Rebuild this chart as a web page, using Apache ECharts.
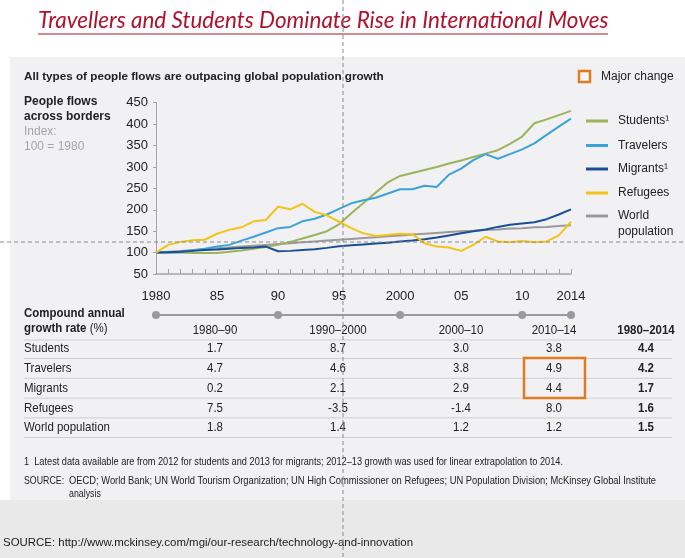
<!DOCTYPE html>
<html>
<head>
<meta charset="utf-8">
<script src="https://cdn.jsdelivr.net/npm/echarts@6/dist/echarts.min.js"></script>
<style>
html,body{margin:0;padding:0;background:#ffffff;}
#c{width:685px;height:558px;}
</style>
</head>
<body>
<div id="c"></div>
<script>
// ---------- DATA ----------
var years = [];
for (var yy = 1980; yy <= 2014; yy++) years.push(String(yy));

var xLabelYears = ['1980','1985','1990','1995','2000','2005','2010','2014'];
var xLabelTexts = ['1980','85','90','95','2000','05','10','2014'];

var seriesNames = ['Students\u00b9','Travelers','Migrants\u00b9','Refugees','World\npopulation'];

var students = [100,100,100,99,99,99,102,105,109,113,118,125,133,141,150,166,192,216,240,264,279,286,293,300,308,315,323,331,339,354,371,402,411,421,431];
var travelers = [100,100,101,105,109,114,118,128,137,147,157,160,173,179,189,202,215,222,228,238,248,248,256,253,282,296,316,330,319,330,341,355,375,394,413];
var migrants = [100,101,102,104,106,107,109,111,112,114,103,104,106,108,111,115,117,119,121,123,126,128,131,135,140,145,150,154,160,165,168,171,178,189,201];
var refugees = [100,118,125,129,130,144,153,159,173,176,207,201,214,195,187,172,157,145,139,141,144,143,122,114,112,104,118,137,126,124,127,124,126,140,172];
var worldPop = [100,102,104,106,108,110,112,114,116,118,120,122,124,126,128,130,132,134,136,138,140,142,144,146,148,150,151,153,154,156,157,159,160,162,164];

var timelineYears = ['1980','1990','2000','2010','2014'];

var periods = ['1980\u201390','1990\u20132000','2000\u201310','2010\u201314','1980\u20132014'];
var rowNames = ['Students','Travelers','Migrants','Refugees','World population'];
var cagrStudents = [1.7, 8.7, 3.0, 3.8, 4.4];
var cagrTravelers = [4.7, 4.6, 3.8, 4.9, 4.2];
var cagrMigrants = [0.2, 2.1, 2.9, 4.4, 1.7];
var cagrRefugees = [7.5, -3.5, -1.4, 8.0, 1.6];
var cagrWorld = [1.8, 1.4, 1.2, 1.2, 1.5];

// ---------- STYLE ----------
var colors = ['#9db35a','#3ba3d8','#1b4f93','#f2c418','#9a9a9a'];
var SANS = "'Liberation Sans', Arial, sans-serif";
var TXT = '#222222';
var NARROW_SCALE = 0.85;

var seriesData = [students, travelers, migrants, refugees, worldPop];
var cagrRows = [cagrStudents, cagrTravelers, cagrMigrants, cagrRefugees, cagrWorld];

var mctx = document.createElement('canvas').getContext('2d');
function measure(s, size, weight, family) {
  mctx.font = (weight || 'normal') + ' ' + size + 'px ' + (family || SANS);
  return mctx.measureText(s).width;
}

function txt(x, y, s, opt) {
  opt = opt || {};
  var el = {
    type: 'text', x: x, y: y, z: 50, silent: true,
    style: {
      text: s,
      fill: opt.fill || TXT,
      fontSize: opt.size || 12,
      fontFamily: opt.family || SANS,
      fontWeight: opt.weight || 'normal',
      fontStyle: opt.style || 'normal',
      align: opt.align || 'left',
      textAlign: opt.align || 'left',
      verticalAlign: 'middle',
      textVerticalAlign: 'middle'
    }
  };
  var sx = opt.sx;
  if (opt.fitWidth) {
    sx = opt.fitWidth / measure(s, opt.size || 12, opt.weight, opt.family);
  }
  if (sx) { el.scaleX = sx; }
  return el;
}

var graphics = [];
// backgrounds
graphics.push({type:'rect', z:-100, silent:true, shape:{x:0,y:500,width:685,height:58}, style:{fill:'#e9e9ea'}});
graphics.push({type:'rect', z:-100, silent:true, shape:{x:10,y:57,width:675,height:443}, style:{fill:'#f1f1f3'}});

// title
graphics.push(txt(38, 21, 'Travellers and Students Dominate Rise in International Moves',
  {size:22.5, family:"Lato, 'Open Sans', sans-serif", style:'italic', fill:'#b0122c'}));
graphics.push({type:'line', z:50, silent:true, shape:{x1:38,y1:34,x2:608,y2:34}, style:{stroke:'#b0122c', lineWidth:1}});

// panel headings
graphics.push(txt(24, 77, 'All types of people flows are outpacing global population growth', {size:11.7, weight:'bold'}));
graphics.push(txt(24, 102, 'People flows', {size:12, weight:'bold'}));
graphics.push(txt(24, 117, 'across borders', {size:12, weight:'bold'}));
graphics.push(txt(24, 132, 'Index:', {size:12, fill:'#a5a5a8'}));
graphics.push(txt(24, 147, '100 = 1980', {size:12, fill:'#a5a5a8'}));

// major change key
graphics.push({type:'rect', z:50, silent:true, shape:{x:579,y:71,width:11,height:11}, style:{fill:'#f6f6f6', stroke:'#e07b1f', lineWidth:2.5}});
graphics.push(txt(601, 77, 'Major change', {size:12}));

// legend
var legY = [121, 145.5, 169, 193, 216];
for (var i = 0; i < seriesNames.length; i++) {
  graphics.push({type:'line', z:50, silent:true, shape:{x1:586,y1:legY[i],x2:608,y2:legY[i]}, style:{stroke:colors[i], lineWidth:3}});
  var parts = seriesNames[i].split('\n');
  for (var p = 0; p < parts.length; p++) {
    graphics.push(txt(618, legY[i] + p*16, parts[p], {size:12}));
  }
}

// table
graphics.push(txt(24, 313, 'Compound annual', {size:13.5, weight:'bold', sx:NARROW_SCALE}));
graphics.push(txt(24, 328, 'growth rate', {size:13.5, weight:'bold', sx:NARROW_SCALE}));
var grW = measure('growth rate ', 13.5, 'bold') * NARROW_SCALE;
graphics.push(txt(24 + grW, 328, '(%)', {size:13.5, sx:NARROW_SCALE}));
var colX = [215, 338, 461, 554, 646];
for (var c = 0; c < periods.length; c++) {
  graphics.push(txt(colX[c], 330, periods[c], {size:13.5, align:'center', weight: c === 4 ? 'bold' : 'normal', sx:NARROW_SCALE}));
}
var sepY = [340, 358.5, 378.3, 398.1, 417.9, 437.5];
for (var s = 0; s < sepY.length; s++) {
  graphics.push({type:'line', z:40, silent:true, shape:{x1:24,y1:sepY[s],x2:672,y2:sepY[s]}, style:{stroke:'#cfcfd3', lineWidth:1}});
}
for (var r = 0; r < rowNames.length; r++) {
  var ry = 348.5 + r*19.8;
  graphics.push(txt(24, ry, rowNames[r], {size:13.5, sx:NARROW_SCALE}));
  for (var c2 = 0; c2 < cagrRows[r].length; c2++) {
    graphics.push(txt(colX[c2], ry, cagrRows[r][c2].toFixed(1), {size:13.5, align:'center', weight: c2 === 4 ? 'bold' : 'normal', sx:NARROW_SCALE}));
  }
}
// major change box
graphics.push({type:'rect', z:60, silent:true, shape:{x:524,y:358,width:61,height:40}, style:{fill:'none', stroke:'#e07b1f', lineWidth:2.5}});

// footnotes
graphics.push(txt(24, 462, '1  Latest data available are from 2012 for students and 2013 for migrants; 2012\u201313 growth was used for linear extrapolation to 2014.', {size:11, fitWidth:539}));
graphics.push(txt(24, 481, 'SOURCE:', {size:11, sx:0.8}));
graphics.push(txt(69, 481, 'OECD; World Bank; UN World Tourism Organization; UN High Commissioner on Refugees; UN Population Division; McKinsey Global Institute', {size:11, fitWidth:587}));
graphics.push(txt(69, 494, 'analysis', {size:11, sx:0.8}));

graphics.push(txt(3, 543, 'SOURCE: http://www.mckinsey.com/mgi/our-research/technology-and-innovation', {size:11.4, fill:'#1a1a1a', fitWidth:410}));

// crosshair guides
graphics.push({type:'line', z:200, silent:true, shape:{x1:343,y1:0,x2:343,y2:558}, style:{stroke:'#8a8a8a', lineWidth:1, lineDash:[4,3]}});
graphics.push({type:'line', z:200, silent:true, shape:{x1:0,y1:242,x2:685,y2:242}, style:{stroke:'#8a8a8a', lineWidth:1, lineDash:[4,3]}});

// ---------- CHART ----------
var series = [];
for (var k = 0; k < seriesData.length; k++) {
  series.push({
    name: seriesNames[k],
    type: 'line',
    xAxisIndex: 0, yAxisIndex: 0,
    data: seriesData[k],
    symbol: 'none',
    lineStyle: {color: colors[k], width: 2},
    itemStyle: {color: colors[k]},
    z: k === 4 ? 2 : 3,
    animation: false
  });
}
series.push({
  type: 'line',
  xAxisIndex: 1, yAxisIndex: 1,
  data: timelineYears.map(function (y) { return [years.indexOf(y), 0.5]; }),
  symbol: 'circle', symbolSize: 8,
  showSymbol: true, showAllSymbol: true,
  lineStyle: {color: '#9a9a9a', width: 2},
  itemStyle: {color: '#9a9a9a'},
  animation: false
});

var option = {
  backgroundColor: 'transparent',
  animation: false,
  grid: [
    {left: 156, right: 114, top: 102.7, bottom: 284, containLabel: false},
    {left: 156, right: 114, top: 310, height: 10}
  ],
  xAxis: [{
    type: 'category', gridIndex: 0, data: years, boundaryGap: false,
    axisLine: {lineStyle: {color: '#a3a3a6', width: 1.5}},
    axisTick: {inside: true, length: 5, interval: 0, lineStyle: {color: '#a3a3a6'}},
    axisLabel: {
      interval: function (idx, val) { return xLabelYears.indexOf(val) >= 0; },
      formatter: function (val) { var j = xLabelYears.indexOf(val); return j >= 0 ? xLabelTexts[j] : ''; },
      color: TXT, fontSize: 13, fontFamily: SANS, margin: 16
    },
    splitLine: {show: false}
  }, {
    type: 'category', gridIndex: 1, data: years, boundaryGap: false, show: false
  }],
  yAxis: [{
    type: 'value', gridIndex: 0, min: 50, max: 450, interval: 50,
    axisLine: {show: true, lineStyle: {color: '#a3a3a6', width: 1}},
    axisTick: {show: true, length: 3, lineStyle: {color: '#a3a3a6'}},
    axisLabel: {color: TXT, fontSize: 13, fontFamily: SANS, margin: 8},
    splitLine: {show: false}
  }, {
    type: 'value', gridIndex: 1, min: 0, max: 1, show: false
  }],
  graphic: {elements: graphics},
  series: series
};

var chart = echarts.init(document.getElementById('c'), null, {renderer: 'canvas', width: 685, height: 558});
chart.setOption(option);
</script>
</body>
</html>
